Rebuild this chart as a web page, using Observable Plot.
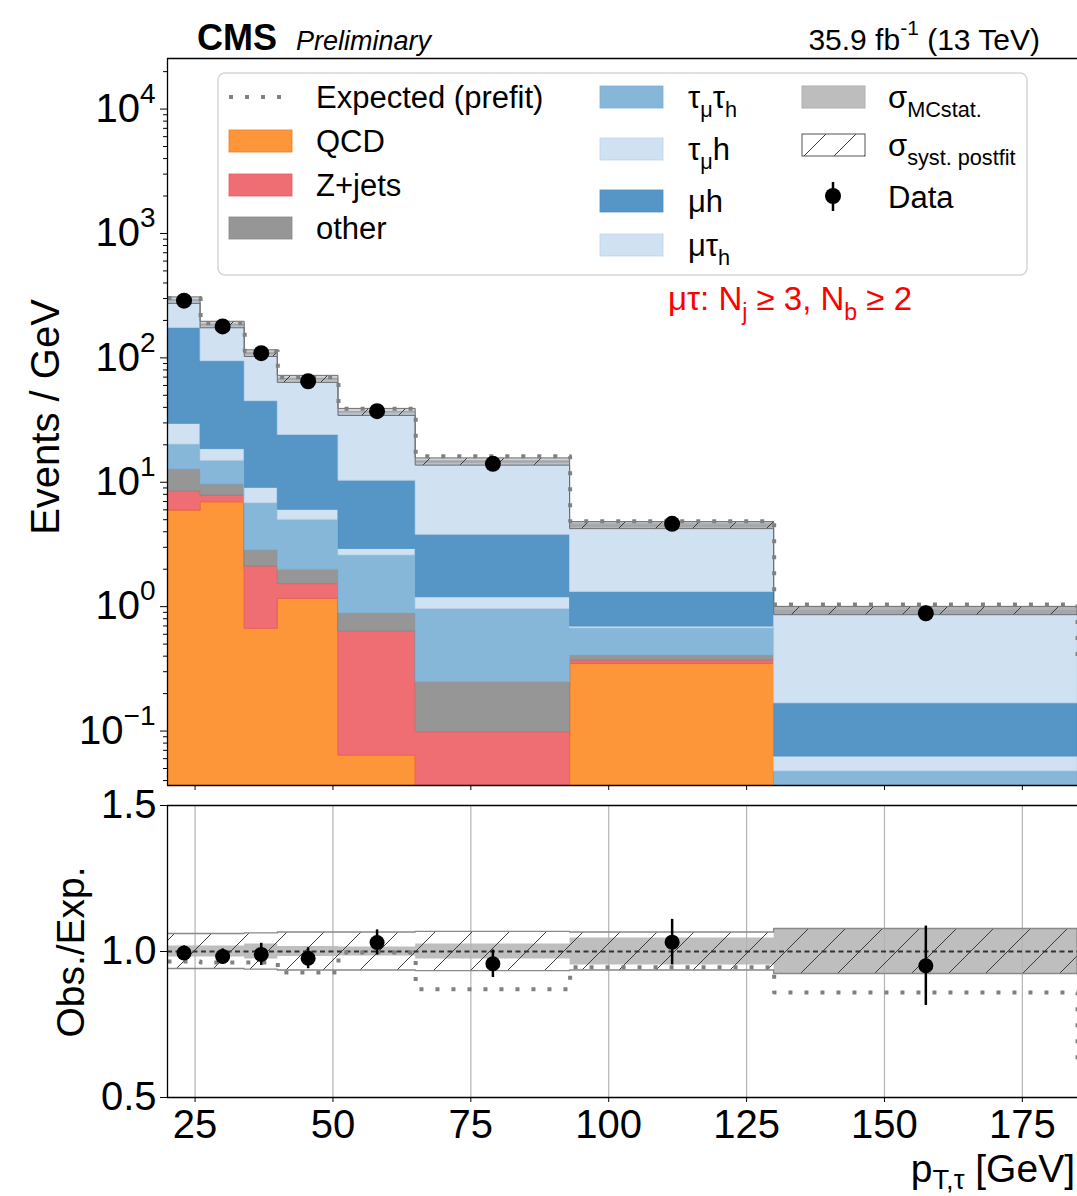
<!DOCTYPE html>
<html><head><meta charset="utf-8">
<script src="https://cdn.jsdelivr.net/npm/d3@7"></script>
<script src="https://cdn.jsdelivr.net/npm/@observablehq/plot@0.6"></script>
<style>
html,body{margin:0;padding:0;background:#fff;overflow:hidden}
#wrap{position:relative;width:1077px;height:1196px;overflow:hidden;background:#fff}
#wrap > svg{position:absolute;left:0}
text{white-space:pre}
</style></head>
<body>
<svg width="0" height="0" style="position:absolute">
<defs>
<pattern id="hatch" patternUnits="userSpaceOnUse" width="37" height="37">
<path d="M0,37 L37,0 M-6,6 L6,-6 M31,43 L43,31" stroke="#3a3a3a" stroke-width="1"/>
</pattern>
<pattern id="hatchLeg" patternUnits="userSpaceOnUse" width="30" height="30">
<path d="M0,30 L30,0 M-6,6 L6,-6 M24,36 L36,24" stroke="#3a3a3a" stroke-width="1"/>
</pattern>
</defs></svg>
<div id="wrap"></div>
<script>
// ---------------- data ----------------
const edges      = [20, 26, 34, 40, 51, 65, 93, 130, 185];
const qcd        = [5.92, 6.9, 0.664, 1.155, 0.0635, 0, 0.347, 0];
const zjets      = [2.55, 0.92, 1.44, 0.365, 0.57, 0.098, 0.022, 0];
const other      = [4.18, 1.76, 0.73, 0.46, 0.25, 0.149, 0.035, 0];
const tauMuTauH  = [7.45, 5.3, 3.95, 3.01, 1.70, 0.712, 0.266, 0.0475];
const tauMuH     = [9.4, 3.6, 2.24, 1.01, 0.33, 0.231, 0.022, 0.0149];
const muH        = [144.5, 75.5, 35.8, 18.0, 7.39, 2.59, 0.62, 0.1046];
const muTauH     = [115, 90, 63.5, 43.3, 26.2, 10.8, 3.18, 0.758];
const dataMain   = [288, 179, 109, 64.9, 37.3, 14.06, 4.63, 0.885];
const prefitMain = [303, 190, 113, 69.8, 38.9, 16.2, 4.86, 1.04];
const prefitMainBeyond = 0.355;
const dataRatio    = [0.995, 0.983, 0.99, 0.977, 1.031, 0.958, 1.032, 0.951];
const dataRatioErr = [0.024, 0.026, 0.038, 0.036, 0.043, 0.047, 0.078, 0.136];
const prefitRatio  = [0.966, 0.962, 0.962, 0.928, 0.997, 0.871, 0.946, 0.86];
const prefitRatioBeyond = 0.62;
const mcStatErr  = [0.019, 0.019, 0.026, 0.017, 0.015, 0.026, 0.046, 0.077];
const systErr    = [0.06, 0.06, 0.062, 0.065, 0.065, 0.067, 0.065, 0.077];
const xTicks      = [25, 50, 75, 100, 125, 150, 175];
const yTicksMain  = [0.1, 1, 10, 100, 1000, 10000];
const yTicksRatio = [0.5, 1.0, 1.5];

// ---------------- setup ----------------
const FONT = '"Liberation Sans", Arial, Helvetica, sans-serif';
const W = 1077;
const nb = edges.length - 1;
const yMin = 0.0365, yMax = 25500, FLOOR = 1e-4;

const stackDefs = [
  {name: "QCD",    values: qcd,       fill: "#fd9638", stroke: "#f47c1c"},
  {name: "Z+jets", values: zjets,     fill: "#ee6e73", stroke: "#e8585e"},
  {name: "other",  values: other,     fill: "#969696", stroke: "#888888"},
  {name: "tmth",   values: tauMuTauH, fill: "#87b7d8", stroke: "#7aaed2"},
  {name: "tmh",    values: tauMuH,    fill: "#d0e1f2", stroke: "#b9d3ec"},
  {name: "mh",     values: muH,       fill: "#5696c7", stroke: "#4b8ec3"},
  {name: "mth",    values: muTauH,    fill: "#d0e1f2", stroke: "#b9d3ec"}
];
const totals = d3.range(nb).map(i => d3.sum(stackDefs, d => d.values[i]));
const cumBelow = (k, i) => d3.sum(stackDefs.slice(0, k), d => d.values[i]);

function stepRows(fn) {
  const rows = [];
  for (let i = 0; i <= nb; i++) rows.push({x: edges[i], ...fn(Math.min(i, nb - 1))});
  return rows;
}
const bins = d3.range(nb).map(i => ({
  c: (edges[i] + edges[i + 1]) / 2,
  v: dataMain[i],
  lo: dataMain[i] * (1 - dataRatioErr[i] / dataRatio[i]),
  hi: dataMain[i] * (1 + dataRatioErr[i] / dataRatio[i]),
  r: dataRatio[i], rlo: dataRatio[i] - dataRatioErr[i], rhi: dataRatio[i] + dataRatioErr[i]
}));
const bandMain = err => stepRows(i => ({y1: totals[i] * (1 - err[i]), y2: totals[i] * (1 + err[i])}));
const bandRatio = err => stepRows(i => ({y1: 1 - err[i], y2: 1 + err[i]}));
const prefitMainRows = stepRows(i => ({y: prefitMain[i]})).concat([{x: edges[nb], y: prefitMainBeyond}]);
const prefitRatioRows = stepRows(i => ({y: prefitRatio[i]})).concat([{x: edges[nb], y: prefitRatioBeyond}]);

const yMinor = [];
for (let e = -2; e <= 4; e++) for (let m = 2; m <= 9; m++) {
  const v = m * Math.pow(10, e);
  if (v > yMin && v < yMax) yMinor.push(v);
}
const fmtPow = d => { const e = Math.round(Math.log10(d)); return "10^" + (e < 0 ? "\u2212" + (-e) : e); };

const stackMarks = stackDefs.map((d, k) => Plot.areaY(
  stepRows(i => ({y1: Math.max(cumBelow(k, i), FLOOR), y2: Math.max(cumBelow(k, i) + d.values[i], FLOOR)})),
  {x: "x", y1: "y1", y2: "y2", curve: "step-after", fill: d.fill, stroke: d.stroke, strokeWidth: 1, strokeOpacity: 0.8, clip: true}
));

// ---------------- main panel ----------------
const main = Plot.plot({
  width: W, height: 791, marginTop: 58, marginBottom: 6, marginLeft: 167, marginRight: 0,
  style: {fontFamily: FONT, fontSize: "40px", background: "transparent", color: "black"},
  x: {domain: [edges[0], edges[nb]]},
  y: {type: "log", domain: [yMin, yMax]},
  marks: [
    ...stackMarks,
    Plot.areaY(bandMain(systErr), {x: "x", y1: "y1", y2: "y2", curve: "step-after", fill: "#9c9c9c", fillOpacity: 0.45, clip: true}),
    Plot.areaY(bandMain(mcStatErr), {x: "x", y1: "y1", y2: "y2", curve: "step-after", fill: "#8a8a8a", fillOpacity: 0.45, clip: true}),
    Plot.areaY(bandMain(systErr), {x: "x", y1: "y1", y2: "y2", curve: "step-after", fill: "url(#hatch)", stroke: "#6e6e6e", strokeWidth: 1, clip: true}),
    Plot.line(prefitMainRows, {x: "x", y: "y", curve: "step-after", stroke: "#808080", strokeWidth: 4, strokeDasharray: "4,12", strokeLinecap: "butt", clip: true}),
    Plot.ruleX(bins, {x: "c", y1: "lo", y2: "hi", stroke: "black", strokeWidth: 2.5}),
    Plot.dot(bins, {x: "c", y: "v", r: 8, fill: "black"}),
    Plot.axisY({ticks: yMinor, tickSize: 4, tickFormat: () => "", label: null}),
    Plot.axisY({ticks: yTicksMain, tickSize: 7, tickPadding: 5, tickFormat: fmtPow, label: null}),
    Plot.axisX({ticks: xTicks, tickSize: 5, tickFormat: () => "", label: null}),
    Plot.ruleX([edges[0]], {stroke: "black", strokeWidth: 1.3}),
    Plot.ruleY([yMin, yMax], {stroke: "black", strokeWidth: 1.3})
  ]
});

// ---------------- ratio panel ----------------
const ratio = Plot.plot({
  width: W, height: 421, marginTop: 30, marginBottom: 99, marginLeft: 167, marginRight: 0,
  style: {fontFamily: FONT, fontSize: "40px", background: "transparent", color: "black"},
  x: {domain: [edges[0], edges[nb]]},
  y: {domain: [0.5, 1.5]},
  marks: [
    Plot.gridX({ticks: xTicks, stroke: "#b4b4b4", strokeOpacity: 1, strokeWidth: 1.2}),
    Plot.areaY(bandRatio(mcStatErr), {x: "x", y1: "y1", y2: "y2", curve: "step-after", fill: "#b3b3b3", fillOpacity: 0.85, clip: true}),
    Plot.areaY(bandRatio(systErr), {x: "x", y1: "y1", y2: "y2", curve: "step-after", fill: "url(#hatch)", stroke: "#888888", strokeWidth: 1.3, clip: true}),
    Plot.ruleY([1], {stroke: "#333", strokeWidth: 2, strokeDasharray: "5,3.5"}),
    Plot.line(prefitRatioRows, {x: "x", y: "y", curve: "step-after", stroke: "#808080", strokeWidth: 4, strokeDasharray: "4,12", strokeLinecap: "butt", clip: true}),
    Plot.ruleX(bins, {x: "c", y1: "rlo", y2: "rhi", stroke: "black", strokeWidth: 2.5}),
    Plot.dot(bins, {x: "c", y: "r", r: 7.5, fill: "black"}),
    Plot.axisY({ticks: yTicksRatio, tickSize: 7, tickPadding: 4, tickFormat: d3.format(".1f"), label: null}),
    Plot.axisX({ticks: xTicks, tickSize: 5, tickPadding: 7, label: null}),
    Plot.ruleX([edges[0]], {stroke: "black", strokeWidth: 1.3}),
    Plot.ruleY([0.5, 1.5], {stroke: "black", strokeWidth: 1.3})
  ]
});

const wrap = document.getElementById("wrap");
main.style.top = "0px";
ratio.style.top = "775px";
wrap.appendChild(main);
wrap.appendChild(ratio);

// ---------------- text helpers ----------------
function rich(parent, x, y, parts, size, attrs = {}, subK = 0.3) {
  const t = parent.append("text").attr("x", x).attr("y", y).attr("font-size", size)
    .attr("font-family", FONT).attr("text-anchor", "start");
  for (const k in attrs) t.attr(k, attrs[k]);
  let shift = 0;
  for (const [s, kind] of parts) {
    const target = kind === "sub" ? subK * size : kind === "sup" ? -0.5 * size : 0;
    const ts = t.append("tspan").attr("dy", target - shift).text(s);
    if (kind !== "n") ts.attr("font-size", size * 0.7);
    shift = target;
  }
  return t;
}

// log tick labels with superscripts
const ms = d3.select(main);
ms.selectAll('g[aria-label="y-axis tick label"] text').each(function () {
  const t = this.textContent;
  const p = t.split("^");
  if (p.length === 2) {
    const sel = d3.select(this);
    sel.text(p[0]);
    sel.append("tspan").attr("dy", -19).attr("font-size", 28).text(p[1]);
  }
});

// header
const hdr = ms.append("g").attr("text-anchor", "start");
hdr.append("text").attr("x", 197).attr("y", 50).attr("font-family", FONT).attr("font-size", 36).attr("font-weight", "bold").text("CMS");
hdr.append("text").attr("x", 296).attr("y", 50).attr("font-family", FONT).attr("font-size", 27).attr("font-style", "italic").text("Preliminary");
rich(hdr, 1040, 50, [["35.9 fb", "n"], ["-1", "sup"], [" (13 TeV)", "n"]], 30, {"text-anchor": "end"});

// y label
ms.append("text").attr("transform", "translate(45,417) rotate(-90)").attr("text-anchor", "middle")
  .attr("dy", "0.35em").attr("font-family", FONT).attr("font-size", 40).text("Events / GeV");

// legend
const lg = ms.append("g");
lg.append("rect").attr("x", 218).attr("y", 73).attr("width", 809).attr("height", 202).attr("rx", 7)
  .attr("fill", "white").attr("fill-opacity", 0.8).attr("stroke", "#d6d6d6").attr("stroke-width", 1.5);
const LS = 31, HW = 63, HH = 22;
// column 1
lg.append("line").attr("x1", 229).attr("x2", 292).attr("y1", 97).attr("y2", 97)
  .attr("stroke", "#808080").attr("stroke-width", 4).attr("stroke-dasharray", "4,12");
rich(lg, 316, 108, [["Expected (prefit)", "n"]], LS);
const col1 = [["QCD", stackDefs[0], 141], ["Z+jets", stackDefs[1], 185], ["other", stackDefs[2], 228]];
for (const [lab, d, cy] of col1) {
  lg.append("rect").attr("x", 229).attr("y", cy - HH / 2).attr("width", HW).attr("height", HH).attr("fill", d.fill).attr("stroke", d.stroke).attr("stroke-opacity", 0.8);
  rich(lg, 316, cy + 11, [[lab, "n"]], LS);
}
// column 2
const col2 = [
  [[["\u03C4", "n"], ["\u03BC", "sub"], ["\u03C4", "n"], ["h", "sub"]], stackDefs[3], 97],
  [[["\u03C4", "n"], ["\u03BC", "sub"], ["h", "n"]], stackDefs[4], 149],
  [[["\u03BCh", "n"]], stackDefs[5], 201],
  [[["\u03BC\u03C4", "n"], ["h", "sub"]], stackDefs[6], 245]
];
for (const [parts, d, cy] of col2) {
  lg.append("rect").attr("x", 600).attr("y", cy - HH / 2).attr("width", HW).attr("height", HH).attr("fill", d.fill).attr("stroke", d.stroke).attr("stroke-opacity", 0.8);
  rich(lg, 688, cy + 11, parts, LS);
}
// column 3
lg.append("rect").attr("x", 802).attr("y", 86).attr("width", HW).attr("height", HH).attr("fill", "#bdbdbd").attr("stroke", "#b0b0b0");
rich(lg, 888, 108, [["\u03C3", "n"], ["MCstat.", "sub"]], LS);
lg.append("rect").attr("x", 802).attr("y", 134).attr("width", HW).attr("height", HH).attr("fill", "url(#hatchLeg)").attr("stroke", "#555").attr("stroke-width", 1);
rich(lg, 888, 156, [["\u03C3", "n"], ["syst. postfit", "sub"]], LS);
lg.append("line").attr("x1", 833).attr("x2", 833).attr("y1", 182).attr("y2", 211).attr("stroke", "black").attr("stroke-width", 2.5);
lg.append("circle").attr("cx", 833).attr("cy", 196).attr("r", 8).attr("fill", "black");
rich(lg, 888, 208, [["Data", "n"]], LS);

// channel annotation
rich(ms, 668, 310, [["\u03BC\u03C4: N", "n"], ["j", "sub"], [" \u2265 3, N", "n"], ["b", "sub"], [" \u2265 2", "n"]], 33, {fill: "#ff0000"});

// ratio labels (ratio svg starts at page y = 775)
const rs = d3.select(ratio);
rs.append("text").attr("transform", "translate(70,177) rotate(-90)").attr("text-anchor", "middle")
  .attr("dy", "0.35em").attr("font-family", FONT).attr("font-size", 39).text("Obs./Exp.");
rich(rs, 1075, 407, [["p", "n"], ["T,\u03C4", "sub"], [" [GeV]", "n"]], 39, {"text-anchor": "end"}, 0.18);
</script>
</body></html>
